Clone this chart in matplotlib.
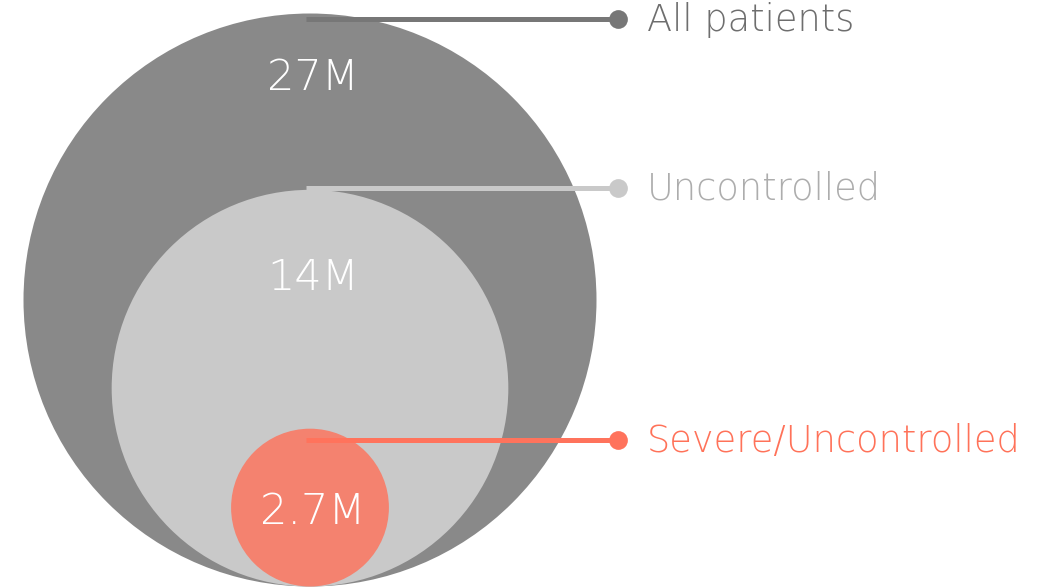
import numpy as np
import matplotlib.pyplot as plt
from matplotlib.patches import Circle

# ------------------------------------------------------------------------------
# DATOS
# ------------------------------------------------------------------------------
groups = ["All patients", "Uncontrolled", "Severe/Uncontrolled"]
values = [27.0, 14.0, 2.7]          # millones de pacientes
value_labels = ["27M", "14M", "2.7M"]

# ------------------------------------------------------------------------------
# ESTILO / LAYOUT (coordenadas en píxeles de la figura)
# ------------------------------------------------------------------------------
W, H = 1051, 587
fill_colors = ["#898989", "#c9c9c9", "#f4826f"]
line_colors = ["#777777", "#c9c9c9", "#ff735c"]
text_colors = ["#6e6e6e", "#adadad", "#ff7259"]
r_max = 286.5
exponent = 0.56                  # escala de potencia radio ~ valor^p
cx = 310
bottom = 586.5
label_y = [19, 188, 440]
number_dy = [-222, -111, 4]       # desplazamiento respecto al centro de cada círculo
line_x0, dot_x, text_x = 306, 618, 647

plt.rcParams['font.family'] = ['DejaVu Sans']

fig = plt.figure(figsize=(W / 100, H / 100), dpi=100)
ax = fig.add_axes([0, 0, 1, 1])
ax.set_xlim(0, W)
ax.set_ylim(H, 0)
ax.set_aspect('equal')
ax.axis('off')

radii = [r_max * (v / max(values)) ** exponent for v in values]

for i, r in enumerate(radii):
    ax.add_patch(Circle((cx, bottom - r), r, color=fill_colors[i], lw=0, zorder=i))

for i, (name, r) in enumerate(zip(groups, radii)):
    cy = bottom - r
    y = label_y[i]
    ax.plot([line_x0, dot_x], [y, y], color=line_colors[i], lw=3.6,
            solid_capstyle='butt', zorder=10 + i)
    ax.plot(dot_x, y, 'o', color=line_colors[i], ms=13.5, mew=0, zorder=10 + i)
    ax.text(text_x, y + 1, name, color=text_colors[i], fontsize=26.5,
            fontweight='light', va='center', ha='left')
    ax.text(cx + 3, cy + number_dy[i], value_labels[i],
            color='white', fontsize=31, fontweight='light',
            va='center', ha='center', zorder=20)

plt.savefig('out.png', dpi=100)
